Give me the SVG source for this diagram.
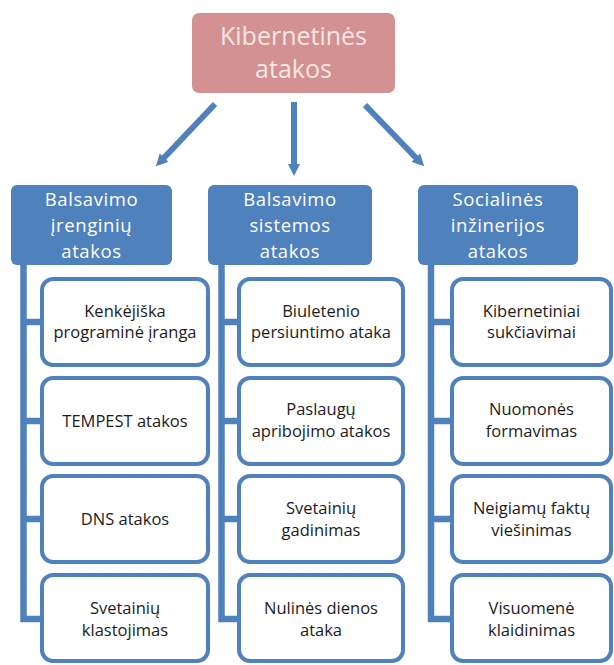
<svg xmlns="http://www.w3.org/2000/svg" width="614" height="665" viewBox="0 0 614 665">
  <defs>
    <marker id="head" viewBox="0 0 10 10" refX="5" refY="5" markerWidth="2" markerHeight="2" orient="auto" markerUnits="strokeWidth">
      <path d="M0,0 L10,5 L0,10 Z" fill="#4f81bd"/>
    </marker>
    <style>
      .root { fill: #d49191; }
      .root-text { fill: #f7e6e6; font-family: "Open Sans", "Liberation Sans", sans-serif; font-size: 25px; text-anchor: middle; }
      .cat { fill: #4f81bd; }
      .cat-text { fill: #ffffff; font-family: "Open Sans", "Liberation Sans", sans-serif; font-size: 18.5px; font-weight: 500; text-anchor: middle; letter-spacing: 0.6px; }
      .item { fill: #ffffff; stroke: #4f81bd; stroke-width: 4; }
      .item-text { fill: #1c1c1c; font-family: "Open Sans", "Liberation Sans", sans-serif; font-size: 16.5px; font-weight: 500; text-anchor: middle; }
      .arrow { stroke: #4f81bd; stroke-width: 6; fill: none; marker-end: url(#head); }
      .tree { stroke: #4f81bd; stroke-width: 6.5; fill: none; stroke-linejoin: miter; }
    </style>
  </defs>

  <!-- connectors -->
  <g id="connectors">
    <line class="arrow" x1="215" y1="104" x2="160" y2="162"/>
    <line class="arrow" x1="294" y1="102" x2="294" y2="170"/>
    <line class="arrow" x1="365" y1="105" x2="420" y2="162"/>
    <path class="tree" d="M23.5,265 V619 H42 M23.5,322 H42 M23.5,421 H42 M23.5,519 H42"/>
    <path class="tree" d="M221.5,265 V619 H239 M221.5,322 H239 M221.5,421 H239 M221.5,519 H239"/>
    <path class="tree" d="M431,265 V619 H452 M431,322 H452 M431,421 H452 M431,519 H452"/>
  </g>

  <!-- root -->
  <g id="root">
    <rect class="root" x="192" y="13" width="203" height="80" rx="7"/>
    <text class="root-text" x="293.5" y="45">Kibernetinės</text>
    <text class="root-text" x="293.5" y="78">atakos</text>
  </g>

  <!-- categories -->
  <g id="cat-devices">
    <rect class="cat" x="11" y="185" width="161" height="80" rx="6"/>
    <text class="cat-text" x="91.5" y="206">Balsavimo</text>
    <text class="cat-text" x="91.5" y="232">įrenginių</text>
    <text class="cat-text" x="91.5" y="258">atakos</text>
  </g>
  <g id="cat-system">
    <rect class="cat" x="208" y="185" width="164" height="80" rx="6"/>
    <text class="cat-text" x="290" y="206">Balsavimo</text>
    <text class="cat-text" x="290" y="232">sistemos</text>
    <text class="cat-text" x="290" y="258">atakos</text>
  </g>
  <g id="cat-social">
    <rect class="cat" x="418" y="185" width="160" height="80" rx="6"/>
    <text class="cat-text" x="498" y="206">Socialinės</text>
    <text class="cat-text" x="498" y="232">inžinerijos</text>
    <text class="cat-text" x="498" y="258">atakos</text>
  </g>

  <!-- device attacks -->
  <g id="item-malware">
    <rect class="item" x="42" y="279" width="166" height="86" rx="11"/>
    <text class="item-text" x="125" y="317">Kenkėjiška</text>
    <text class="item-text" x="125" y="338">programinė įranga</text>
  </g>
  <g id="item-tempest">
    <rect class="item" x="42" y="378" width="166" height="86" rx="11"/>
    <text class="item-text" x="125" y="427">TEMPEST atakos</text>
  </g>
  <g id="item-dns">
    <rect class="item" x="42" y="476" width="166" height="86" rx="11"/>
    <text class="item-text" x="125" y="525">DNS atakos</text>
  </g>
  <g id="item-spoofing">
    <rect class="item" x="42" y="575" width="166" height="86" rx="11"/>
    <text class="item-text" x="125" y="614">Svetainių</text>
    <text class="item-text" x="125" y="636">klastojimas</text>
  </g>

  <!-- system attacks -->
  <g id="item-ballot">
    <rect class="item" x="239" y="279" width="164" height="86" rx="11"/>
    <text class="item-text" x="321" y="317">Biuletenio</text>
    <text class="item-text" x="321" y="338">persiuntimo ataka</text>
  </g>
  <g id="item-dos">
    <rect class="item" x="239" y="378" width="164" height="86" rx="11"/>
    <text class="item-text" x="321" y="415">Paslaugų</text>
    <text class="item-text" x="321" y="437">apribojimo atakos</text>
  </g>
  <g id="item-defacement">
    <rect class="item" x="239" y="476" width="164" height="86" rx="11"/>
    <text class="item-text" x="321" y="514">Svetainių</text>
    <text class="item-text" x="321" y="536">gadinimas</text>
  </g>
  <g id="item-zeroday">
    <rect class="item" x="239" y="575" width="164" height="86" rx="11"/>
    <text class="item-text" x="321" y="614">Nulinės dienos</text>
    <text class="item-text" x="321" y="636">ataka</text>
  </g>

  <!-- social engineering -->
  <g id="item-fraud">
    <rect class="item" x="452" y="279" width="159" height="86" rx="11"/>
    <text class="item-text" x="531.5" y="317">Kibernetiniai</text>
    <text class="item-text" x="531.5" y="338">sukčiavimai</text>
  </g>
  <g id="item-opinion">
    <rect class="item" x="452" y="378" width="159" height="86" rx="11"/>
    <text class="item-text" x="531.5" y="415">Nuomonės</text>
    <text class="item-text" x="531.5" y="437">formavimas</text>
  </g>
  <g id="item-negative">
    <rect class="item" x="452" y="476" width="159" height="86" rx="11"/>
    <text class="item-text" x="531.5" y="514">Neigiamų faktų</text>
    <text class="item-text" x="531.5" y="536">viešinimas</text>
  </g>
  <g id="item-misinfo">
    <rect class="item" x="452" y="575" width="159" height="86" rx="11"/>
    <text class="item-text" x="531.5" y="614">Visuomenė</text>
    <text class="item-text" x="531.5" y="636">klaidinimas</text>
  </g>
</svg>
